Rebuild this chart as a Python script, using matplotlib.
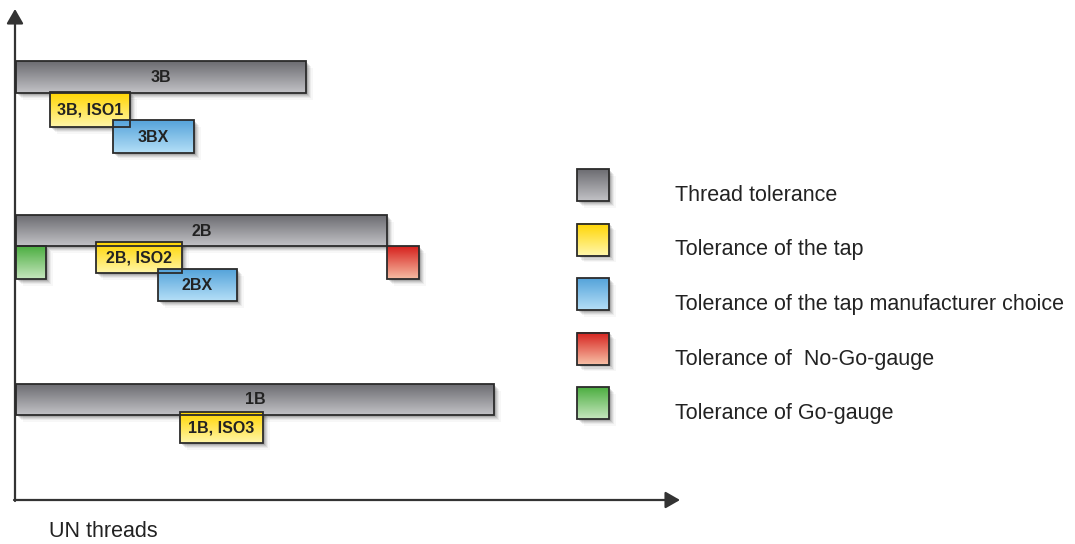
import numpy as np
import matplotlib.pyplot as plt
from matplotlib.patches import Rectangle
from matplotlib import colors as mcolors

# Box extents (left, right, top, bottom) in drawing units
box_labels = ['3B', '3B, ISO1', '3BX', '2B', '', '2B, ISO2', '2BX', '', '1B', '1B, ISO3']
box_kind = ['thread', 'tap', 'choice', 'thread', 'go', 'tap', 'choice', 'nogo', 'thread', 'tap']
box_left = [16, 50, 113, 16, 16, 96, 158, 387, 16, 180]
box_right = [306, 130, 194, 387, 46, 182, 237, 419, 494, 263]
box_top = [61, 92, 120, 215, 246, 242, 269, 246, 384, 412]
box_bottom = [93, 127, 153, 246, 279, 273, 301, 279, 415, 443]

legend_kinds = ['thread', 'tap', 'choice', 'nogo', 'go']
legend_texts = ['Thread tolerance', 'Tolerance of the tap',
                'Tolerance of the tap manufacturer choice',
                'Tolerance of  No-Go-gauge', 'Tolerance of Go-gauge']

# gradient colours: top -> bottom
gradients = {
    'thread': ('#6c6c71', '#c2c2c6'),
    'tap': ('#ffd500', '#fff6a8'),
    'choice': ('#55a3da', '#b4dff7'),
    'nogo': ('#d6211d', '#f7bca3'),
    'go': ('#4cae41', '#c6e6be'),
}

W, H = 1075, 544
fig = plt.figure(figsize=(W / 100, H / 100), dpi=100)
ax = fig.add_axes([0, 0, 1, 1])
ax.axis('off')


def draw_box(x0, x1, y0, y1, kind, label=''):
    # soft drop shadow
    for i, a in enumerate([0.12, 0.09, 0.07, 0.05, 0.03]):
        off = 1.5 + i * 1.3
        ax.add_patch(Rectangle((x0 + off, y0 + off), x1 - x0, y1 - y0,
                               facecolor='black', edgecolor='none', alpha=a, zorder=2))
    c0 = np.array(mcolors.to_rgb(gradients[kind][0]))
    c1 = np.array(mcolors.to_rgb(gradients[kind][1]))
    t = np.linspace(0, 1, 64)[:, None, None]
    img = c0 + (c1 - c0) * t
    ax.imshow(img, extent=(x0, x1, y1, y0), origin='upper', aspect='auto',
              interpolation='bilinear', zorder=3)
    ax.add_patch(Rectangle((x0, y0), x1 - x0, y1 - y0, facecolor='none',
                           edgecolor='#2b2b2b', linewidth=1.3, zorder=4))
    if label:
        ax.text((x0 + x1) / 2, (y0 + y1) / 2 + 5, label, ha='center', va='baseline',
                fontsize=11.5, fontweight='bold', color='#222222',
                family='Liberation Sans', zorder=5)


for lab, kind, l, r, tp, bt in zip(box_labels, box_kind, box_left, box_right, box_top, box_bottom):
    draw_box(l, r, tp, bt, kind, lab)

# legend
for i, (kind, txt) in enumerate(zip(legend_kinds, legend_texts)):
    y0 = 169 + i * 54.5
    draw_box(577, 609, y0, y0 + 32, kind)
    ax.text(675, y0 + 32, txt, ha='left', va='baseline', fontsize=15.5,
            family='Liberation Sans', color='#222222')

# axes arrows
style = '-|>,head_length=0.4,head_width=0.23'
ax.annotate('', xy=(15, 9), xytext=(15, 501),
            arrowprops=dict(arrowstyle=style, color='#333333', lw=1.6,
                            mutation_scale=22, shrinkA=0, shrinkB=0))
ax.annotate('', xy=(680, 500), xytext=(14, 500),
            arrowprops=dict(arrowstyle=style, color='#333333', lw=1.6,
                            mutation_scale=22, shrinkA=0, shrinkB=0))
ax.text(49, 537, 'UN threads', ha='left', va='baseline', fontsize=15.5,
        family='Liberation Sans', color='#222222')

ax.set_xlim(0, W)
ax.set_ylim(H, 0)
fig.savefig('out.png', dpi=100)
